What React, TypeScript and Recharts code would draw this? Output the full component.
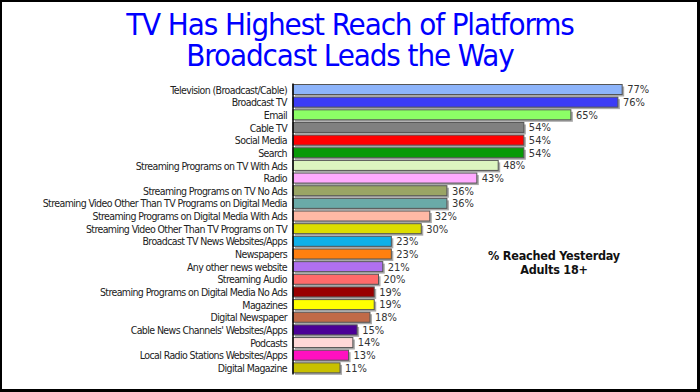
import React from "react";
import { BarChart, Bar, XAxis, YAxis, Cell, LabelList } from "recharts";

const categories = [
  "Television (Broadcast/Cable)",
  "Broadcast TV",
  "Email",
  "Cable TV",
  "Social Media",
  "Search",
  "Streaming Programs on TV With Ads",
  "Radio",
  "Streaming Programs on TV No Ads",
  "Streaming Video Other Than TV Programs on Digital Media",
  "Streaming Programs on Digital Media With Ads",
  "Streaming Video Other Than TV Programs on TV",
  "Broadcast TV News Websites/Apps",
  "Newspapers",
  "Any other news website",
  "Streaming Audio",
  "Streaming Programs on Digital Media No Ads",
  "Magazines",
  "Digital Newspaper",
  "Cable News Channels' Websites/Apps",
  "Podcasts",
  "Local Radio Stations Websites/Apps",
  "Digital Magazine",
];

const reach = [77, 76, 65, 54, 54, 54, 48, 43, 36, 36, 32, 30, 23, 23, 21, 20, 19, 19, 18, 15, 14, 13, 11];

const barColors = [
  "#8db4fa", "#3c3cf5", "#8cff66", "#808080", "#ff0000", "#079a07",
  "#ddf5c0", "#ffaaff", "#9aa565", "#6aaaa8", "#ffb9a5", "#dddd00",
  "#10b0e8", "#ff8010", "#b070f0", "#ff6a6a", "#990000", "#ffff00",
  "#c06a48", "#4b0096", "#ffd8d8", "#ff10c0", "#c8c000",
];

const data = categories.map((name, i) => ({ name, value: reach[i] }));

const FONT = "'DejaVu Sans Condensed', 'DejaVu Sans', sans-serif";

const ShadowBar = (props: any) => {
  const { x, y, width, height, fill } = props;
  if (!width || width <= 0) return null;
  return (
    <g>
      <rect x={x + 2} y={y + 2} width={width} height={height} fill="#a8a8a8" />
      <rect x={x} y={y} width={width} height={height} fill={fill} stroke="#555" strokeWidth={1} />
    </g>
  );
};

const CategoryTick = (props: any) => {
  const { x, y, payload } = props;
  return (
    <text
      x={x - 6}
      y={y}
      dy="0.36em"
      textAnchor="end"
      fontSize={10.5}
      letterSpacing={-0.6}
      fill="#222"
      fontFamily={FONT}
    >
      {payload.value}
    </text>
  );
};

const titleLine: React.CSSProperties = {
  position: "absolute",
  left: 0,
  width: 700,
  height: 31,
  textAlign: "center",
  color: "#0000ff",
  fontSize: 31,
  letterSpacing: -1.1,
  lineHeight: "31px",
  whiteSpace: "nowrap",
};

export default function App() {
  return (
    <div style={{ position: "relative", width: 700, height: 392, background: "#fff", fontFamily: FONT }}>
      <style>{`body{margin:0}`}</style>
      <div style={{ ...titleLine, top: 9 }}>TV Has Highest Reach of Platforms</div>
      <div style={{ ...titleLine, top: 40 }}>Broadcast Leads the Way</div>
      <BarChart
        width={700}
        height={392}
        data={data}
        layout="vertical"
        margin={{ top: 83.5, right: 65, bottom: 17.5, left: 0 }}
        style={{ position: "absolute", top: 0, left: 0 }}
      >
        <XAxis type="number" domain={[0, 80]} hide />
        <YAxis
          type="category"
          dataKey="name"
          width={293}
          axisLine={{ stroke: "#000", strokeWidth: 1.5 }}
          tickLine={false}
          tickSize={0}
          tickMargin={0}
          interval={0}
          tick={<CategoryTick />}
        />
        <Bar dataKey="value" barSize={10} shape={ShadowBar} isAnimationActive={false}>
          {data.map((d, i) => (
            <Cell key={d.name} fill={barColors[i]} />
          ))}
          <LabelList
            dataKey="value"
            position="right"
            offset={5}
            formatter={(v: any) => `${v}%`}
            style={{ fontSize: 11, fill: "#333", fontFamily: FONT }}
          />
        </Bar>
      </BarChart>
      <div
        style={{
          position: "absolute",
          left: 454,
          top: 249,
          width: 200,
          textAlign: "center",
          fontWeight: "bold",
          fontSize: 12.5,
          letterSpacing: -0.2,
          lineHeight: "14px",
          color: "#111",
        }}
      >
        % Reached Yesterday
        <br />
        Adults 18+
      </div>
      <div
        style={{
          position: "absolute",
          inset: 0,
          borderStyle: "solid",
          borderColor: "#000",
          borderWidth: "2px 3px 3px 2px",
          pointerEvents: "none",
        }}
      />
    </div>
  );
}
